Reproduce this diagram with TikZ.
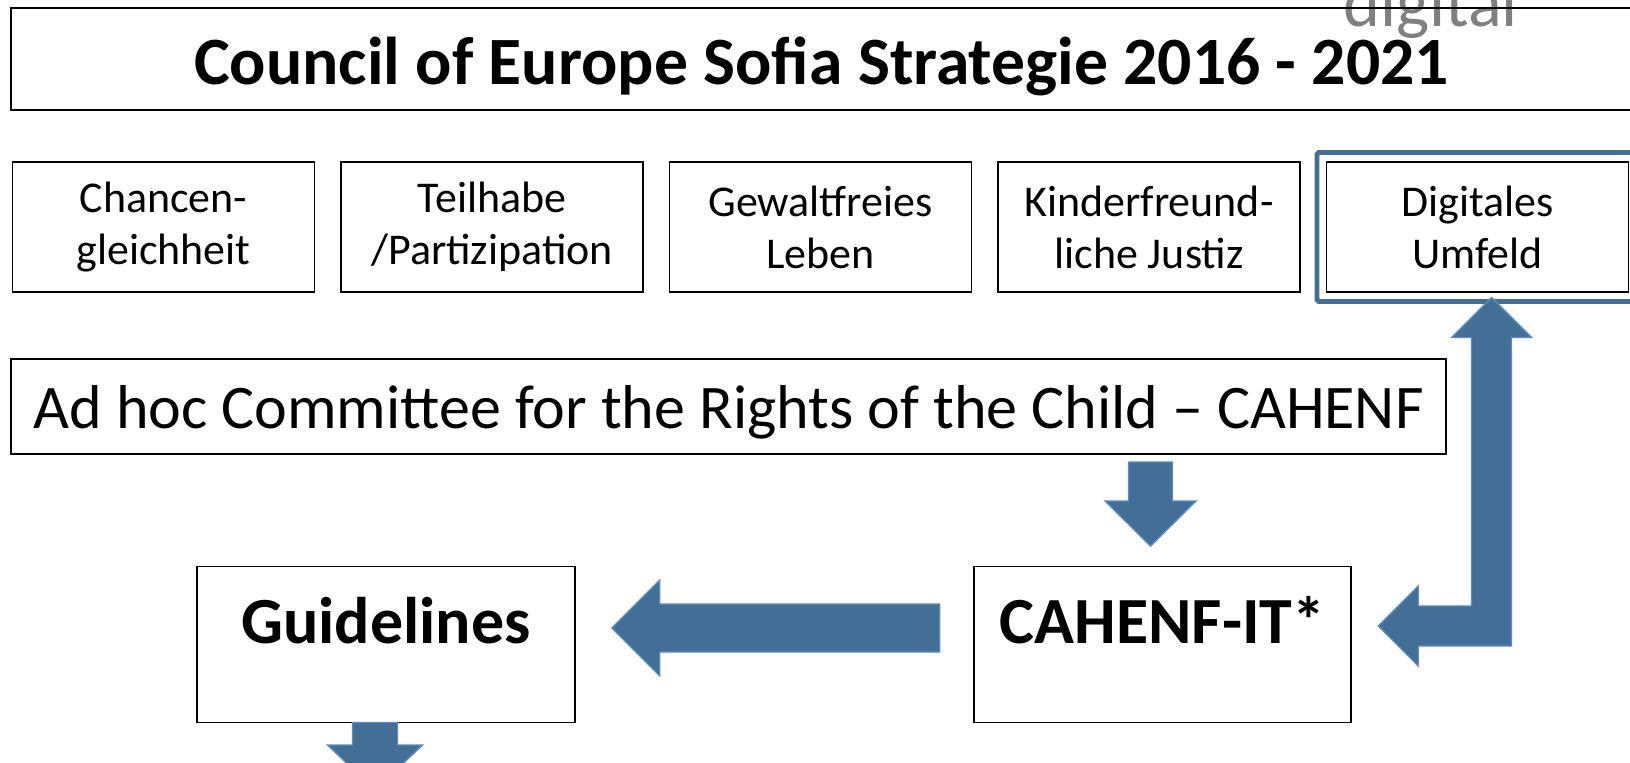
\documentclass[tikz,border=0pt]{standalone}
\usepackage{fontspec}
\setmainfont{Carlito}
\usetikzlibrary{positioning,calc,fit}

\definecolor{sofiablue}{HTML}{436F97}
\definecolor{sofiaedge}{HTML}{5B8BC7}
\definecolor{sofiagrey}{HTML}{808080}

\tikzset{
    titlebox/.style={draw, line width=0.9pt, inner sep=0pt, outer sep=0pt, minimum width=32.42cm, text height=1.52cm, text depth=0.52cm, font=\fontsize{38.5}{46}\selectfont\bfseries},
    themebox/.style={draw, line width=1.1pt, align=center, inner sep=0pt, outer sep=0pt, minimum width=6.04cm, minimum height=2.6cm, font=\fontsize{25}{29.6}\selectfont},
    committeebox/.style={draw, line width=1.1pt, inner sep=0pt, outer sep=0pt, minimum width=28.69cm, text height=1.38cm, text depth=0.52cm, font=\fontsize{35.3}{42}\selectfont},
    outputbox/.style={draw, line width=1.1pt, inner sep=0pt, outer sep=0pt, minimum width=7.55cm, text height=1.53cm, text depth=1.59cm, font=\fontsize{37.5}{45}\selectfont\bfseries},
    focusframe/.style={draw=sofiablue, line width=2.8pt, rounded corners=1pt, inner sep=0.19cm, outer sep=0pt},
    fatbody/.style={fill=sofiablue, draw=sofiaedge, line width=0.8pt, line join=miter},
    % block arrow: half shaft width, half head width, head length
    fatarrow/.style n args={3}{fatbody, to path={
        ($(\tikztotarget)!#3!(\tikztostart)$) coordinate (fathead)
        ($(\tikztostart)!#1!90:(\tikztotarget)$)
        -- ($(fathead)!#1!-90:(\tikztostart)$)
        -- ($(fathead)!#2!-90:(\tikztostart)$)
        -- (\tikztotarget)
        -- ($(fathead)!#2!90:(\tikztostart)$)
        -- ($(fathead)!#1!90:(\tikztostart)$)
        -- ($(\tikztostart)!#1!-90:(\tikztotarget)$)
        -- cycle}}
}

\begin{document}
\begin{tikzpicture}
    \useasboundingbox (0,0) rectangle (32.6,-15.24);
    \clip (0,0) rectangle (32.6,-15.24);

    \node[anchor=base west, inner sep=0pt, text=sofiagrey, font=\fontsize{40}{48}\selectfont] (digitalmark) at (26.86,-0.54) {digital};
    \node[titlebox] (title) at (16.43,-1.18) {Council of Europe Sofia Strategie 2016 - 2021};

    % the five fields of the strategy
    \node[themebox] (chancen) at (3.27,-4.54) {Chancen-\\gleichheit};
    \node[themebox, right=0.53cm of chancen] (teilhabe) {Teilhabe\\/Partizipation};
    \node[themebox, right=0.53cm of teilhabe] (gewalt) {Gewaltfreies\\Leben};
    \node[themebox, right=0.53cm of gewalt] (justiz) {Kinderfreund-\\liche Justiz};
    \node[themebox, right=0.53cm of justiz] (digital) {Digitales\\Umfeld};
    \node[focusframe, fit=(digital)] (focus) {};

    \node[committeebox] (cahenf) at (14.574,-8.13) {Ad hoc Committee for the Rights of the Child – CAHENF};

    \node[outputbox] (guide) at (7.72,-12.89) {Guidelines};
    \node[outputbox, right=7.98cm of guide] (cahenfit) {CAHENF-IT*};

    \coordinate (fromcahenf) at ($(cahenf.south -| cahenfit.north)+(-0.24,-0.16)$);
    \coordinate (intoit) at ($(cahenfit.north)+(-0.24,0.41)$);
    \coordinate (fromit) at ($(cahenfit.west)+(-0.68,0.33)$);
    \coordinate (toguide) at ($(guide.east |- fromit)+(0.74,0)$);
    \coordinate (fromguide) at ($(guide.south)+(-0.22,0)$);
    \coordinate (belowguide) at ($(guide.south)+(-0.22,-1.35)$);
    \coordinate (toframe) at ($(focus.south)+(0.28,0.08)$);
    \coordinate (backtoit) at ($(cahenfit.east)+(0.54,0.37)$);

    \draw[fatarrow={0.44cm}{0.91cm}{0.9cm}] (fromcahenf) to (intoit);
    \draw[fatarrow={0.48cm}{0.96cm}{0.96cm}] (fromit) to (toguide);
    \draw[fatarrow={0.45cm}{0.95cm}{0.9cm}] (fromguide) to (belowguide);
    % two-headed bent arrow between the digital field and CAHENF-IT
    \draw[fatbody] (toframe) -- ++(0.8,-0.8) -- ++(-0.4,0) |- ($(backtoit)+(0.8,-0.4)$) -- ++(0,-0.4)
        -- (backtoit) -- ++(0.8,0.8) -- ++(0,-0.4) -| ($(toframe)+(-0.4,-0.8)$) -- ++(-0.4,0) -- cycle;
\end{tikzpicture}
\end{document}
